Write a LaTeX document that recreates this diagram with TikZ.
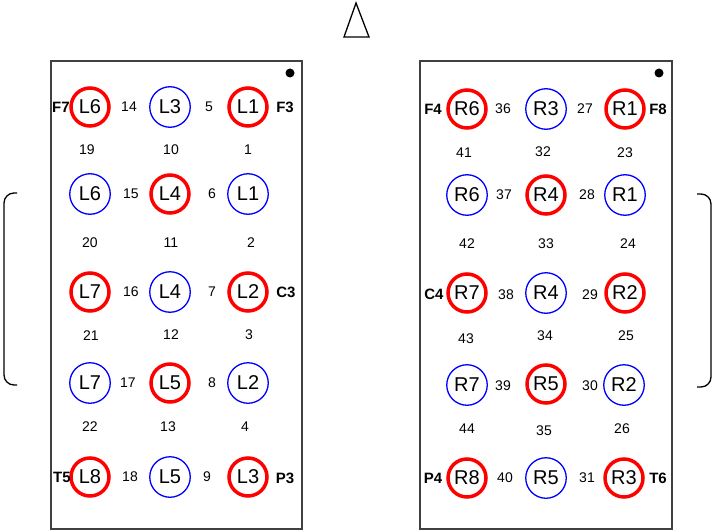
\documentclass[tikz,border=0pt]{standalone}
\usepackage{fontspec}
\setmainfont{Liberation Sans}
\begin{document}
\begin{tikzpicture}[x=1pt,y=-1pt,
  redpin/.style={draw=red, line width=3.5pt, circle, minimum size=38pt, inner sep=0pt, font=\fontsize{20}{20}\selectfont},
  bluepin/.style={draw=blue, line width=1.3pt, circle, minimum size=40.5pt, inner sep=0pt, font=\fontsize{20}{20}\selectfont},
  num/.style={font=\fontsize{14}{14}\selectfont, inner sep=0pt},
  tag/.style={font=\fontsize{15}{15}\selectfont\bfseries, inner sep=0pt}]
\useasboundingbox (0,0) rectangle (714,532);
% top marker
\path[draw,line width=1.3pt] (356,3) -- (369,37) -- (344,37) -- cycle;
% side brackets
\path[draw,line width=1.3pt,rounded corners=10pt] (17,193) -- (4,193) -- (4,385) -- (17,385);
\path[draw,line width=1.3pt,rounded corners=10pt] (697,194) -- (711,194) -- (711,387) -- (697,387);
% left board
\path[draw,line width=1.8pt,black!75] (51,61) rectangle (302,529);
\path[fill=black] (290,73) circle (4.5pt);
\node[redpin]  (la1) at (90,107) {L6};
\node[bluepin] (lb1) at (170,107) {L3};
\node[redpin]  (lc1) at (248,107) {L1};
\node[bluepin] (la2) at (90,194) {L6};
\node[redpin]  (lb2) at (170,194) {L4};
\node[bluepin] (lc2) at (248,194) {L1};
\node[redpin]  (la3) at (90,292) {L7};
\node[bluepin] (lb3) at (170,292) {L4};
\node[redpin]  (lc3) at (248,292) {L2};
\node[bluepin] (la4) at (90,383) {L7};
\node[redpin]  (lb4) at (170,383) {L5};
\node[bluepin] (lc4) at (248,383) {L2};
\node[redpin]  (la5) at (90,477) {L8};
\node[bluepin] (lb5) at (170,477) {L5};
\node[redpin]  (lc5) at (248,477) {L3};
\node[num] (n14) at (129,107) {14};
\node[num] (n5)  at (209,107) {5};
\node[num] (n15) at (131,194) {15};
\node[num] (n6)  at (212,194) {6};
\node[num] (n16) at (131,292) {16};
\node[num] (n7)  at (212,292) {7};
\node[num] (n17) at (128,383) {17};
\node[num] (n8)  at (212,383) {8};
\node[num] (n18) at (130,477) {18};
\node[num] (n9)  at (207,477) {9};
\node[num] (n19) at (87,150) {19};
\node[num] (n10) at (171,150) {10};
\node[num] (n1)  at (248,150) {1};
\node[num] (n20) at (90,243) {20};
\node[num] (n11) at (171,243) {11};
\node[num] (n2)  at (251,243) {2};
\node[num] (n21) at (91,336) {21};
\node[num] (n12) at (171,335) {12};
\node[num] (n3)  at (249,335) {3};
\node[num] (n22) at (90,427) {22};
\node[num] (n13) at (168,427) {13};
\node[num] (n4)  at (245,427) {4};
\node[tag] (F7) at (61,107) {F7};
\node[tag] (F3) at (285,107) {F3};
\node[tag] (C3) at (286,292) {C3};
\node[tag] (T5) at (62,477) {T5};
\node[tag] (P3) at (285,478) {P3};
% right board
\path[draw,line width=1.8pt,black!75] (420,61) rectangle (672,529);
\path[fill=black] (659,73) circle (4.5pt);
\node[redpin]  (ra1) at (467,109) {R6};
\node[bluepin] (rb1) at (546,109) {R3};
\node[redpin]  (rc1) at (625,109) {R1};
\node[bluepin] (ra2) at (467,195) {R6};
\node[redpin]  (rb2) at (546,195) {R4};
\node[bluepin] (rc2) at (625,195) {R1};
\node[redpin]  (ra3) at (467,293) {R7};
\node[bluepin] (rb3) at (546,293) {R4};
\node[redpin]  (rc3) at (625,293) {R2};
\node[bluepin] (ra4) at (467,385) {R7};
\node[redpin]  (rb4) at (546,384) {R5};
\node[bluepin] (rc4) at (624,385) {R2};
\node[redpin]  (ra5) at (467,478) {R8};
\node[bluepin] (rb5) at (546,478) {R5};
\node[redpin]  (rc5) at (624,478) {R3};
\node[num] (n36) at (503,109) {36};
\node[num] (n27) at (585,109) {27};
\node[num] (n37) at (504,195) {37};
\node[num] (n28) at (587,195) {28};
\node[num] (n38) at (506,295) {38};
\node[num] (n29) at (590,295) {29};
\node[num] (n39) at (503,386) {39};
\node[num] (n30) at (590,386) {30};
\node[num] (n40) at (505,478) {40};
\node[num] (n31) at (587,478) {31};
\node[num] (n41) at (464,153) {41};
\node[num] (n32) at (543,152) {32};
\node[num] (n23) at (625,153) {23};
\node[num] (n42) at (467,244) {42};
\node[num] (n33) at (546,244) {33};
\node[num] (n24) at (628,244) {24};
\node[num] (n43) at (466,339) {43};
\node[num] (n34) at (545,336) {34};
\node[num] (n25) at (626,336) {25};
\node[num] (n44) at (467,429) {44};
\node[num] (n35) at (544,431) {35};
\node[num] (n26) at (622,429) {26};
\node[tag] (F4) at (433,109) {F4};
\node[tag] (F8) at (658,109) {F8};
\node[tag] (C4) at (434,294) {C4};
\node[tag] (P4) at (433,478) {P4};
\node[tag] (T6) at (658,478) {T6};
\end{tikzpicture}
\end{document}
